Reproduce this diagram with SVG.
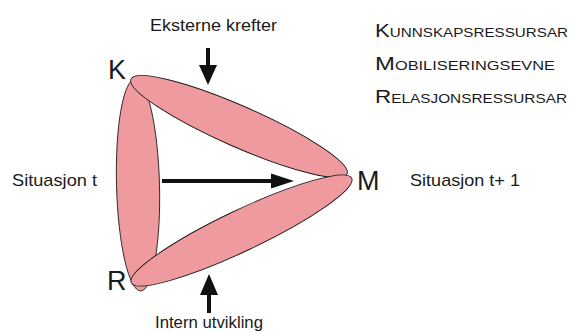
<svg xmlns="http://www.w3.org/2000/svg" width="570" height="333" viewBox="0 0 570 333">
<style>
.petal{fill:#EF9A9E;stroke:#1a1a1a;stroke-width:0.9}
.t{font-family:"Liberation Sans",Arial,sans-serif;fill:#1a1a1a}
.big{font-size:27px}
.lab{font-size:17px}
.sc{font-size:13px}
.scb{font-size:19px}
.ar{fill:#111;stroke:none}
.sh{stroke:#111;stroke-width:4;fill:none}
</style>
<rect width="570" height="333" fill="#fff"/>
<g id="petals">
<g id="petal-KR"><ellipse class="petal" cx="138" cy="185" rx="21.5" ry="106" transform="rotate(-1.5 138 185)"/></g>
<g id="petal-KM"><ellipse class="petal" cx="239" cy="126.5" rx="118" ry="20.5" transform="rotate(23.7 239 126.5)"/></g>
<g id="petal-RM"><ellipse class="petal" cx="241.5" cy="230.5" rx="122" ry="20.5" transform="rotate(-25.4 241.5 230.5)"/></g>
</g>
<g id="connectors">
<line class="sh" x1="162" y1="181" x2="274" y2="181"/>
<polygon class="ar" points="271,173.5 294,181 271,188.5"/>
<line class="sh" x1="208" y1="48" x2="208" y2="67"/>
<polygon class="ar" points="199,65 217,65 208,85"/>
<line class="sh" x1="209" y1="293" x2="209" y2="313"/>
<polygon class="ar" points="200,295 218,295 209,274"/>
</g>
<g id="node-K"><text class="t big" x="108" y="79">K</text></g>
<g id="node-M"><text class="t big" x="357" y="190">M</text></g>
<g id="node-R"><text class="t big" x="107" y="290">R</text></g>
<g id="label-ext"><text class="t lab" x="150" y="31" textLength="127" lengthAdjust="spacingAndGlyphs">Eksterne krefter</text></g>
<g id="label-int"><text class="t lab" x="155" y="328" textLength="108" lengthAdjust="spacingAndGlyphs">Intern utvikling</text></g>
<g id="label-sit-t"><text class="t lab" x="12" y="186" textLength="85" lengthAdjust="spacingAndGlyphs">Situasjon t</text></g>
<g id="label-sit-t1"><text class="t lab" x="410" y="186" textLength="110" lengthAdjust="spacingAndGlyphs">Situasjon t+ 1</text></g>
<g id="legend">
<text class="t" x="375" y="37" textLength="193" lengthAdjust="spacingAndGlyphs"><tspan class="scb">K</tspan><tspan class="sc">UNNSKAPSRESSURSAR</tspan></text>
<text class="t" x="375" y="70" textLength="180" lengthAdjust="spacingAndGlyphs"><tspan class="scb">M</tspan><tspan class="sc">OBILISERINGSEVNE</tspan></text>
<text class="t" x="375" y="103" textLength="192" lengthAdjust="spacingAndGlyphs"><tspan class="scb">R</tspan><tspan class="sc">ELASJONSRESSURSAR</tspan></text>
</g>
</svg>
